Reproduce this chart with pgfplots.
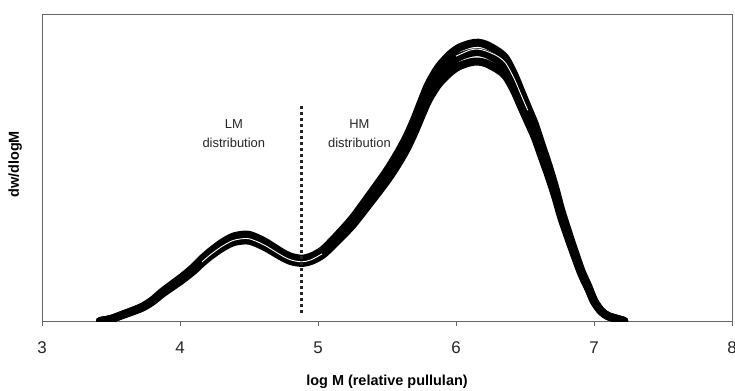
\documentclass[border=0pt]{standalone}
\usepackage{pgfplots}
\pgfplotsset{compat=1.18}
\usepackage{pgfplotstable}
\usepackage{fontspec}
\setmainfont{Liberation Sans}

\pgfplotstableread{
x up mid low
3.42 0 0 0
3.50 2.1 2 1.9
3.58 6.2 6 5.8
3.66 10.4 10 9.7
3.73 14.5 14 13.5
3.80 20.7 20 19.3
3.87 29 28 27
3.95 37.3 36 34.7
4.02 44.5 43 41.5
4.10 53.8 52 50.2
4.16 62.1 60 57.9
4.22 69.3 67 64.7
4.30 77.6 75 72.4
4.38 83.8 81 78.2
4.45 85.9 83 80.1
4.50 85.9 83 80.1
4.56 82.8 80 77.2
4.62 78.7 76 73.3
4.68 73.5 71 68.5
4.74 68.3 66 63.7
4.80 64.2 62 59.8
4.88 62.1 60 57.9
4.95 64.2 62 59.8
5.03 70.4 68 65.6
5.10 79.7 77 74.3
5.17 90 87 84
5.25 102.5 99 95.5
5.35 121.1 117 112.9
5.49 148 143 138
5.57 165.6 160 154.4
5.64 183.2 177 170.8
5.70 201.8 195 188.2
5.75 219.4 212 204.6
5.80 236 228 220
5.87 252.5 244 235.5
5.95 265 256 247
6.02 272.2 263 253.8
6.10 276.3 267 257.7
6.16 277.4 268 258.6
6.22 275.3 266 256.7
6.30 269.1 260 250.9
6.36 261.9 253 244.1
6.42 246.3 238 229.7
6.47 229.8 222 214.2
6.52 213.2 206 198.8
6.57 196.7 190 183.3
6.62 176 170 164
6.67 155.3 150 144.7
6.72 132.5 128 123.5
6.76 111.8 108 104.2
6.81 90 87 84
6.86 69.3 67 64.7
6.91 49.7 48 46.3
6.96 34.2 33 31.8
7.00 20.7 20 19.3
7.05 10.4 10 9.7
7.10 5.2 5 4.8
7.17 2.1 2 1.9
7.22 0 0 0
}\curves

\pgfplotstableread{
x y
4.16 59
4.22 66
4.30 74
4.38 80
4.45 82
4.50 82
4.56 79
4.62 75
4.68 70
4.74 65
4.80 61
4.88 59
4.95 61
5.03 67
}\whiteA

\pgfplotstableread{
x y
6.00 264
6.10 270
6.16 271
6.22 269
6.30 264
6.36 257
6.42 242
6.47 226
6.52 210
}\whiteB

\begin{document}
\begin{tikzpicture}
\begin{axis}[
  scale only axis, width=690bp, height=307bp,
  xmin=3, xmax=8, ymin=0, ymax=306,
  xtick={3,4,5,6,7,8}, ytick=\empty,
  xtick pos=bottom, tick align=outside,
  major tick length=5bp,
  axis line style={draw=black!60, line width=0.8bp},
  tick style={draw=black!60, line width=0.8bp},
  /pgf/number format/assume math mode=true,
  xticklabel style={font=\fontsize{17}{17}\selectfont, text=black!85, yshift=-12bp},
  xlabel={\bfseries log M (relative pullulan)},
  xlabel style={font=\fontsize{14.5}{15}\selectfont, at={(axis description cs:0.5,0)}, anchor=center, yshift=-61bp},
  ylabel={\bfseries dw/dlogM},
  ylabel style={font=\fontsize{14.5}{15}\selectfont, at={(axis description cs:-0.039,0.51)}, anchor=center},
]
\addplot[black, line width=8bp, smooth, line join=round, line cap=round] table[x=x, y=up] {\curves};
\addplot[black, line width=8bp, smooth, line join=round, line cap=round] table[x=x, y=low] {\curves};
\addplot[black, line width=8bp, smooth, line join=round, line cap=round] table[x=x, y=mid] {\curves};
\addplot[white, line width=0.9bp, smooth] table[x=x, y=y] {\whiteA};
\addplot[white, line width=0.9bp, smooth] table[x=x, y=y] {\whiteB};
\addplot[black!85, line width=3bp, dash pattern=on 3bp off 3bp] coordinates {(4.88,8) (4.88,216)};
\node[align=center, font=\fontsize{13}{19}\selectfont, text=black!85] at (axis cs:4.39,187) {LM\\distribution};
\node[align=center, font=\fontsize{13}{19}\selectfont, text=black!85] at (axis cs:5.30,187) {HM\\distribution};
\coordinate (SW) at (rel axis cs:0,0);
\coordinate (NE) at (rel axis cs:1,1);
\end{axis}
\pgfresetboundingbox
\path[use as bounding box] ([shift={(-42bp,-69bp)}]SW) rectangle ([shift={(3bp,14bp)}]NE);
\end{tikzpicture}
\end{document}
